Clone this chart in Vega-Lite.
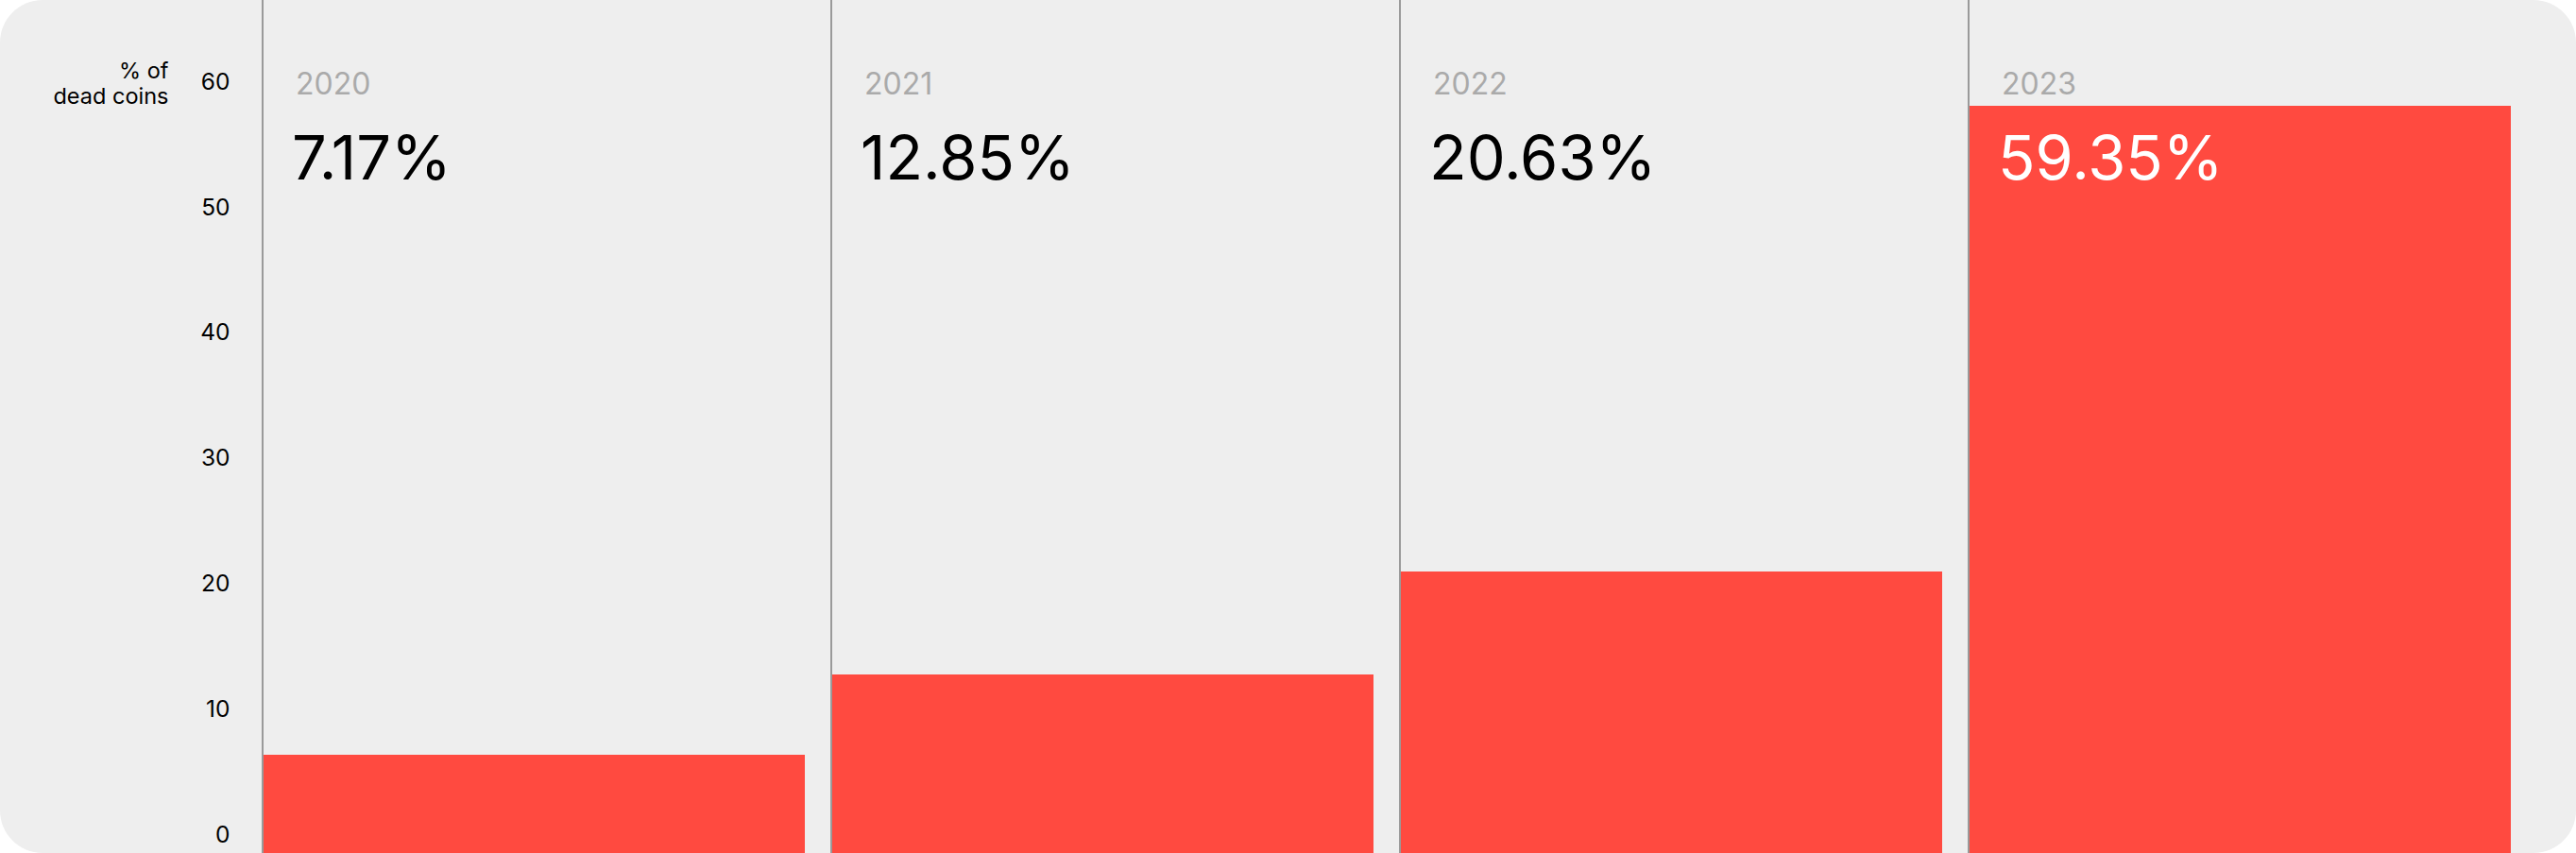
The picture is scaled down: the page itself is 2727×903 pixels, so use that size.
{
  "$schema": "https://vega.github.io/schema/vega-lite/v6.json",
  "width": 2727,
  "height": 903,
  "autosize": {"type": "none"},
  "padding": 0,
  "background": "#ffffff",
  "config": {
    "view": {"fill": "#eeeeee", "stroke": null, "cornerRadius": 45},
    "font": "Inter"
  },
  "data": {
    "values": [
      {"year": "2020", "value": 6.4, "label": "7.17%"},
      {"year": "2021", "value": 12.8, "label": "12.85%"},
      {"year": "2022", "value": 21.01, "label": "20.63%"},
      {"year": "2023", "value": 58.13, "label": "59.35%"}
    ]
  },
  "encoding": {
    "x": {
      "field": "year",
      "type": "nominal",
      "axis": null,
      "scale": {"range": [278, 2658], "paddingInner": 0.0465, "paddingOuter": 0}
    }
  },
  "layer": [
    {
      "mark": {"type": "bar", "color": "#ff4a40", "align": "left"},
      "encoding": {
        "y": {
          "field": "value",
          "type": "quantitative",
          "scale": {"domain": [-1.43, 66.57], "nice": false, "zero": false},
          "axis": {
            "values": [0, 10, 20, 30, 40, 50, 60],
            "domain": false,
            "ticks": false,
            "tickSize": 0,
            "grid": false,
            "offset": -278,
            "labelPadding": 35,
            "labelFontSize": 24.5,
            "labelColor": "#000000",
            "labelFont": "Inter",
            "labelBaseline": "middle",
            "title": ["% of", "dead coins"],
            "titleAngle": 0,
            "titleAlign": "right",
            "titleBaseline": "alphabetic",
            "titleX": -100,
            "titleY": 82,
            "titleFontSize": 23.5,
            "titleFontWeight": "normal",
            "titleColor": "#000000",
            "titleFont": "Inter",
            "titleLineHeight": 27
          }
        },
        "y2": {"datum": -1.43}
      }
    },
    {
      "mark": {"type": "rule", "color": "#9a9a9a", "strokeWidth": 2},
      "encoding": {
        "x": {"field": "year", "type": "nominal", "bandPosition": 0}
      }
    },
    {
      "mark": {"type": "text", "align": "left", "baseline": "middle", "dx": 35, "fontSize": 32, "color": "#aaaaaa"},
      "encoding": {
        "x": {"field": "year", "type": "nominal", "bandPosition": 0},
        "y": {"datum": 59.8},
        "text": {"field": "year"}
      }
    },
    {
      "mark": {"type": "text", "align": "left", "baseline": "middle", "dx": 31, "fontSize": 65},
      "encoding": {
        "x": {"field": "year", "type": "nominal", "bandPosition": 0},
        "y": {"datum": 53.77},
        "text": {"field": "label"},
        "color": {
          "condition": {"test": "datum.value > 55", "value": "#ffffff"},
          "value": "#000000"
        }
      }
    }
  ]
}
